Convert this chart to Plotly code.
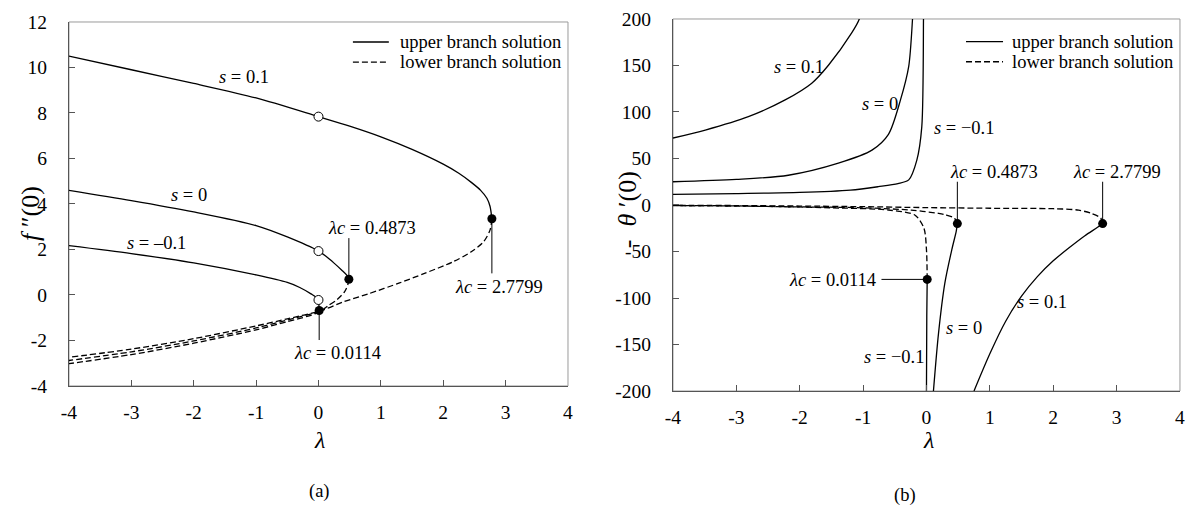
import plotly.graph_objects as go

# ---------------- data: panel (a) f''(0) vs lambda ----------------
a_up_s01_x = [-4, -3, -2, -1, 0, 0.5, 1.0, 1.5, 2.0, 2.25, 2.45, 2.6, 2.7, 2.75, 2.7799]
a_up_s01_y = [10.5, 9.9, 9.3, 8.66, 7.84, 7.42, 6.95, 6.4, 5.75, 5.35, 4.95, 4.6, 4.25, 3.9, 3.35]
a_lo_s01_x = [2.7799, 2.75, 2.65, 2.45, 2.15, 1.7, 1.3, 0.8, 0.4, 0.05, -0.5, -1, -2, -3, -4]
a_lo_s01_y = [3.35, 2.85, 2.35, 1.9, 1.45, 0.95, 0.53, 0.05, -0.3, -0.68, -1.05, -1.36, -1.92, -2.38, -2.74]

a_up_s0_x = [-4, -3, -2, -1, -0.5, 0, 0.12, 0.25, 0.37, 0.45, 0.4873]
a_up_s0_y = [4.6, 4.15, 3.65, 3.05, 2.55, 1.93, 1.7, 1.4, 1.1, 0.88, 0.69]
a_lo_s0_x = [0.4873, 0.47, 0.42, 0.3, 0.15, 0.03, -0.5, -1, -2, -3, -4]
a_lo_s0_y = [0.69, 0.45, 0.15, -0.2, -0.48, -0.7, -1.1, -1.45, -2.02, -2.5, -2.88]

a_up_sm01_x = [-4, -3, -2, -1, -0.5, -0.3, -0.12, -0.03, 0.005, 0.0114]
a_up_sm01_y = [2.17, 1.82, 1.41, 0.88, 0.55, 0.33, 0.05, -0.12, -0.4, -0.68]
a_lo_sm01_x = [0.0114, -0.05, -0.5, -1, -2, -3, -4]
a_lo_sm01_y = [-0.68, -0.82, -1.17, -1.53, -2.12, -2.62, -3.02]

a_open_x = [0, 0, 0]
a_open_y = [7.84, 1.93, -0.22]
a_crit_x = [2.7799, 0.4873, 0.0114]
a_crit_y = [3.35, 0.69, -0.68]

# ---------------- data: panel (b) -theta'(0) vs lambda ----------------
b_up_s01_x = [-4, -3.49, -2.81, -2.23, -1.81, -1.55, -1.18, -1.06, -1.03]
b_up_s01_y = [72, 80.6, 95, 113, 131, 150, 185, 200, 212]
b_up2_s01_x = [0.75, 1.0, 1.25, 1.5, 1.75, 2.0, 2.25, 2.5, 2.7, 2.7799]
b_up2_s01_y = [-200, -160, -125, -98, -77, -60, -46, -33, -24, -20]
b_lo_s01_x = [2.7799, 2.75, 2.6, 2.4, 2.0, 1.0, 0, -1, -2, -3, -4]
b_lo_s01_y = [-20, -14, -9, -5.5, -4, -3.5, -2.8, -1.8, -1.1, -0.6, -0.3]

b_up_s0_x = [-4, -3, -2.18, -1.39, -0.86, -0.6, -0.41, -0.28, -0.22, -0.21]
b_up_s0_y = [25, 27.5, 32, 45, 59, 76, 113, 149, 200, 212]
b_up2_s0_x = [0.11, 0.19, 0.29, 0.4, 0.47, 0.4873]
b_up2_s0_y = [-200, -138, -84, -48, -28, -20]
b_lo_s0_x = [0.4873, 0.44, 0.3, 0.19, -0.24, -1, -2.33, -3, -4]
b_lo_s0_y = [-20, -14, -10.5, -9, -5.5, -3, -1.8, -1, -0.5]

b_up_sm01_x = [-4, -3, -2, -1.2, -0.76, -0.45, -0.28, -0.153, -0.074, -0.047, -0.045]
b_up_sm01_y = [11.5, 12.3, 13.5, 16, 19.7, 23, 27, 48, 84, 200, 212]
b_up2_sm01_x = [0.0, 0.005, 0.0114]
b_up2_sm01_y = [-200, -120, -80]
b_lo_sm01_x = [0.0114, 0.0, -0.04, -0.18, -0.6, -1.5, -2.5, -4]
b_lo_sm01_y = [-80, -48, -25, -11, -5.4, -3, -1.5, -0.7]

b_crit_x = [2.7799, 0.4873, 0.0114]
b_crit_y = [-20, -20, -80]

# ticks
a_xticks = [-4, -3, -2, -1, 0, 1, 2, 3, 4]
a_xtext = ["-4", "-3", "-2", "-1", "0", "1", "2", "3", "4"]
a_yticks = [-4, -2, 0, 2, 4, 6, 8, 10, 12]
a_ytext = ["-4", "-2", "0", "2", "4", "6", "8", "10", "12"]
b_yticks = [-200, -150, -100, -50, 0, 50, 100, 150, 200]
b_ytext = ["-200", "-150", "-100", "-50", "0", "50", "100", "150", "200"]

crit_labels = ["<i>λc</i> = 2.7799", "<i>λc</i> = 0.4873", "<i>λc</i> = 0.0114"]

FONT = "Liberation Serif, Times New Roman, serif"
LW = 1.3
DASH = "6px,3px"

fig = go.Figure()


def add_line(x, y, xa, ya, dashed=False):
    fig.add_trace(go.Scatter(x=x, y=y, mode="lines", xaxis=xa, yaxis=ya,
                             line=dict(color="black", width=LW, shape="spline",
                                       smoothing=0.8, dash=DASH if dashed else "solid"),
                             showlegend=False, hoverinfo="skip"))


for xs, ys, d in [(a_up_s01_x, a_up_s01_y, False), (a_lo_s01_x, a_lo_s01_y, True),
                  (a_up_s0_x, a_up_s0_y, False), (a_lo_s0_x, a_lo_s0_y, True),
                  (a_up_sm01_x, a_up_sm01_y, False), (a_lo_sm01_x, a_lo_sm01_y, True)]:
    add_line(xs, ys, "x", "y", d)

for xs, ys, d in [(b_up_s01_x, b_up_s01_y, False), (b_up2_s01_x, b_up2_s01_y, False),
                  (b_lo_s01_x, b_lo_s01_y, True),
                  (b_up_s0_x, b_up_s0_y, False), (b_up2_s0_x, b_up2_s0_y, False),
                  (b_lo_s0_x, b_lo_s0_y, True),
                  (b_up_sm01_x, b_up_sm01_y, False), (b_up2_sm01_x, b_up2_sm01_y, False),
                  (b_lo_sm01_x, b_lo_sm01_y, True)]:
    add_line(xs, ys, "x2", "y2", d)

# leader lines for critical points
a_lead_end = [0.95, 2.5, -1.98]
for cx, cy, ey in zip(a_crit_x, a_crit_y, a_lead_end):
    fig.add_trace(go.Scatter(x=[cx, cx], y=[cy, ey], mode="lines", xaxis="x", yaxis="y",
                             line=dict(color="black", width=1), showlegend=False, hoverinfo="skip"))
b_lead_x = [[2.7799, 2.7799], [0.4873, 0.4873], [0.0114, -0.71]]
b_lead_y = [[-20, 25], [-20, 25], [-80, -80]]
for lx, ly in zip(b_lead_x, b_lead_y):
    fig.add_trace(go.Scatter(x=lx, y=ly, mode="lines", xaxis="x2", yaxis="y2",
                             line=dict(color="black", width=1), showlegend=False, hoverinfo="skip"))

# markers
fig.add_trace(go.Scatter(x=a_open_x, y=a_open_y, mode="markers", xaxis="x", yaxis="y",
                         marker=dict(size=9, color="white", line=dict(color="black", width=1)),
                         showlegend=False, hoverinfo="skip"))
fig.add_trace(go.Scatter(x=a_crit_x, y=a_crit_y, mode="markers", xaxis="x", yaxis="y",
                         marker=dict(size=9, color="black"), showlegend=False, hoverinfo="skip"))
fig.add_trace(go.Scatter(x=b_crit_x, y=b_crit_y, mode="markers", xaxis="x2", yaxis="y2",
                         marker=dict(size=9, color="black"), showlegend=False, hoverinfo="skip"))

ann = []
TF = dict(family=FONT, size=18.5, color="black")
TICKF = dict(family=FONT, size=19.5, color="black")

a_lab_pos = [(2.9, 0.37), (0.865, 2.96), (0.31, -2.56)]
for (lx, ly), t in zip(a_lab_pos, crit_labels):
    ann.append(dict(x=lx, y=ly, xref="x", yref="y", text=t, showarrow=False, font=TF))
b_lab_pos = [(3.0, 36, "center"), (1.06, 36, "center"), (-0.76, -80.6, "right")]
for (lx, ly, al), t in zip(b_lab_pos, crit_labels):
    ann.append(dict(x=lx, y=ly, xref="x2", yref="y2", text=t, showarrow=False, font=TF,
                    xanchor=al))

a_slabels = [(-1.19, 9.6, "<i>s</i> = 0.1"), (-2.07, 4.4, "<i>s</i> = 0"),
             (-2.59, 2.27, "<i>s</i> = –0.1")]
for lx, ly, t in a_slabels:
    ann.append(dict(x=lx, y=ly, xref="x", yref="y", text=t, showarrow=False, font=TF))
b_slabels = [(-2.01, 148.7, "<i>s</i> = 0.1"), (-0.74, 109, "<i>s</i> = 0"),
             (0.6, 82.5, "<i>s</i> = −0.1"), (-0.52, -163, "<i>s</i> = −0.1"),
             (0.6, -132.6, "<i>s</i> = 0"), (1.83, -104, "<i>s</i> = 0.1")]
for lx, ly, t in b_slabels:
    ann.append(dict(x=lx, y=ly, xref="x2", yref="y2", text=t, showarrow=False, font=TF))

shapes = []
for xa, ya, lx0, lx1, tx, y1, y2 in [("x", "y", 0.569, 0.641, 0.659, 0.945, 0.890),
                                     ("x2", "y2", 0.578, 0.651, 0.665, 0.939, 0.885)]:
    shapes.append(dict(type="line", xref=xa + " domain", yref=ya + " domain",
                       x0=lx0, x1=lx1, y0=y1, y1=y1, line=dict(color="black", width=LW)))
    shapes.append(dict(type="line", xref=xa + " domain", yref=ya + " domain",
                       x0=lx0, x1=lx1, y0=y2, y1=y2, line=dict(color="black", width=LW, dash=DASH)))
    ann.append(dict(x=tx, y=y1, xref=xa + " domain", yref=ya + " domain", text="upper branch solution",
                    showarrow=False, xanchor="left", yanchor="middle", font=TF))
    ann.append(dict(x=tx, y=y2, xref=xa + " domain", yref=ya + " domain", text="lower branch solution",
                    showarrow=False, xanchor="left", yanchor="middle", font=TF))
    shapes.append(dict(type="rect", xref=xa + " domain", yref=ya + " domain", x0=0, x1=1, y0=0, y1=1,
                       line=dict(color="#9a9a9a", width=1), layer="below"))

BF = dict(family=FONT, size=24, color="black")
YF = dict(family=FONT, size=26, color="black")
P = dict(xref="paper", yref="paper", showarrow=False, xanchor="center", yanchor="middle")
ann += [
    dict(x=0.2683, y=0.1356, text="<i>λ</i>", font=BF, **P),
    dict(x=0.7813, y=0.1356, text="<i>λ</i>", font=BF, **P),
    dict(x=0.0252, y=0.5815, text="<i>f</i> ″(0)", font=YF, textangle=-90, **P),
    dict(x=0.5273, y=0.589, text="-  <i>θ</i> ′(0)", font=YF, textangle=-90, **P),
    dict(x=0.2691, y=0.0334, text="(a)", font=TF, **P),
    dict(x=0.7612, y=0.0275, text="(b)", font=TF, **P),
]

axis_common = dict(showgrid=False, zeroline=False, showline=True, linecolor="#555", linewidth=1,
                   ticks="inside", ticklen=6, tickcolor="#555", tickfont=TICKF, automargin=False)

fig.update_layout(
    width=1189, height=509, margin=dict(l=0, r=0, t=0, b=0, autoexpand=False),
    paper_bgcolor="white", plot_bgcolor="white", showlegend=False,
    xaxis=dict(domain=[0.058, 0.4777], range=[-4, 4], tickvals=a_xticks, ticktext=a_xtext,
               anchor="y", ticklabelstandoff=9, **axis_common),
    yaxis=dict(domain=[0.2417, 0.9568], range=[-4, 12], tickvals=a_yticks, ticktext=a_ytext,
               anchor="x", ticklabelstandoff=17, **axis_common),
    xaxis2=dict(domain=[0.566, 0.9924], range=[-4, 4], tickvals=a_xticks, ticktext=a_xtext,
                anchor="y2", ticklabelstandoff=9, **axis_common),
    yaxis2=dict(domain=[0.2318, 0.9627], range=[-200, 200], tickvals=b_yticks, ticktext=b_ytext,
                anchor="x2", ticklabelstandoff=17, **axis_common),
    annotations=ann, shapes=shapes,
)

fig.write_html("out.html", config={"responsive": False, "displayModeBar": False},
               post_script="document.body.style.margin='0px';document.body.style.padding='0px';")
